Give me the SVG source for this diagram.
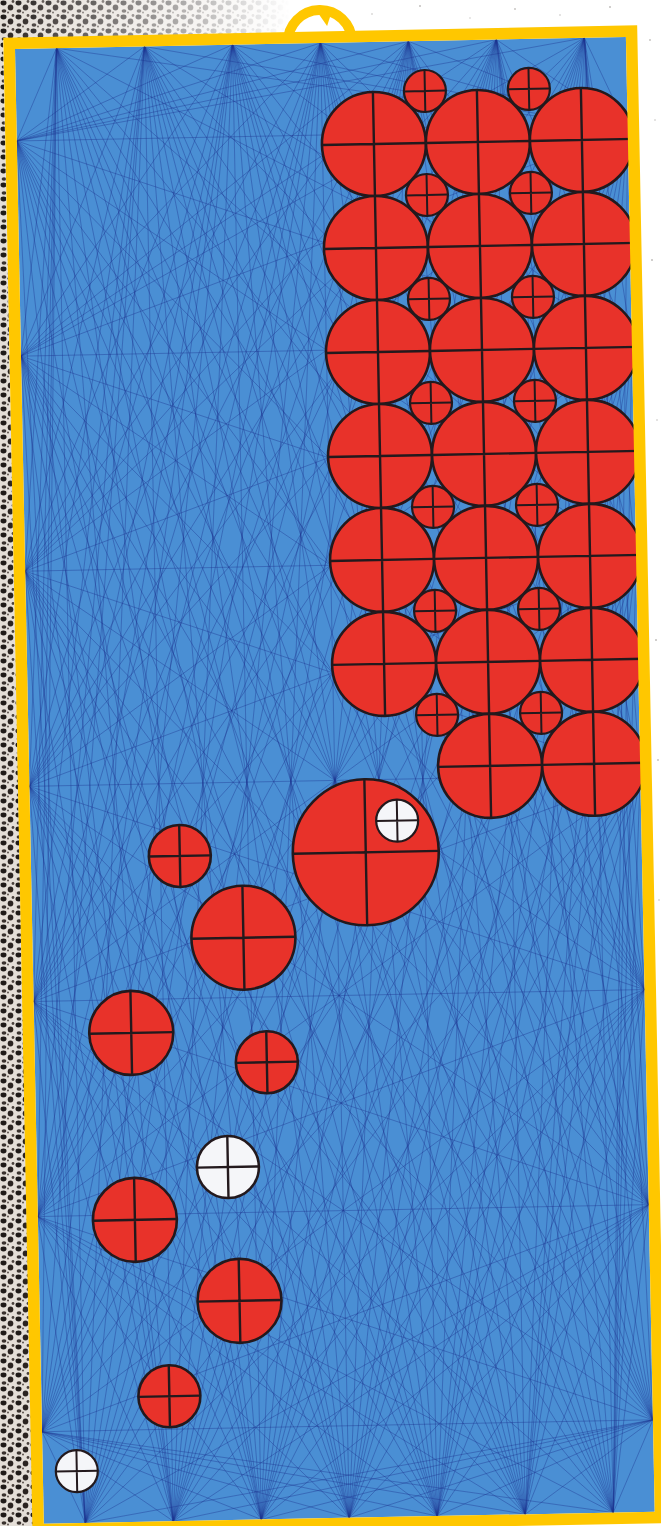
<svg xmlns="http://www.w3.org/2000/svg" width="661" height="1526" viewBox="0 0 661 1526">
<style>
.r{fill:#E8322A;stroke:#23191d;stroke-width:2.6}
.w{fill:#F5F6F9;stroke:#23191d;stroke-width:2.6}
.x{fill:none;stroke:#23191d;stroke-width:2.4}
.s .r,.s .w{stroke-width:2.2}
.s .x{stroke-width:2}
.m use{stroke:#1d3592;stroke-width:0.8;stroke-opacity:0.5;fill:none}
</style>
<defs>
<pattern id="noise" width="15" height="14" patternUnits="userSpaceOnUse">
<rect width="15" height="14" fill="#e4ded7"/>
<ellipse cx="3.5" cy="3" rx="3" ry="2.4" fill="#1f1a18"/>
<ellipse cx="10.5" cy="7.5" rx="2.8" ry="3" fill="#2a2320"/>
<ellipse cx="4" cy="11" rx="2.4" ry="1.8" fill="#3a322e"/>
<circle cx="13" cy="1.5" r="1.4" fill="#4a413c"/>
<circle cx="8" cy="12.5" r="1" fill="#5a514c"/>
</pattern>
<linearGradient id="fg" x1="0" x2="1" y1="0" y2="0">
<stop offset="0" stop-color="#fff"/>
<stop offset="0.3" stop-color="#fff" stop-opacity="0.7"/>
<stop offset="1" stop-color="#fff" stop-opacity="0"/>
</linearGradient>
<mask id="fade" maskUnits="userSpaceOnUse" x="0" y="0" width="300" height="45">
<rect x="0" y="0" width="290" height="45" fill="url(#fg)"/>
</mask>
<clipPath id="cb"><rect width="611" height="1475"/></clipPath>
<path id="fv" vector-effect="non-scaling-stroke" d="M0 0L1 92M0 0L1 307.2M0 0L1 522.3M0 0L1 737.5M0 0L1 952.7M0 0L1 1167.8M0 0L1 1383"/>
<path id="fh" vector-effect="non-scaling-stroke" d="M0 0L41.5 1M0 0L129.5 1M0 0L217.5 1M0 0L305.5 1M0 0L393.5 1M0 0L481.5 1M0 0L569.5 1"/>
</defs>
<rect width="661" height="1526" fill="#ffffff"/>
<g id="texture">
<polygon points="0,0 3,0 3,38 33,1526 0,1526" fill="url(#noise)"/>
<polygon points="0,0 290,0 290,34 0,40" fill="url(#noise)" mask="url(#fade)"/>
<g fill="#9a9590" opacity="0.6">
<circle cx="330" cy="8" r="1"/><circle cx="372" cy="14" r="0.8"/><circle cx="420" cy="6" r="1"/><circle cx="470" cy="18" r="0.7"/><circle cx="515" cy="9" r="0.9"/><circle cx="560" cy="15" r="0.8"/><circle cx="610" cy="7" r="1"/><circle cx="650" cy="40" r="0.9"/><circle cx="655" cy="120" r="0.8"/><circle cx="652" cy="260" r="1"/><circle cx="657" cy="420" r="0.8"/><circle cx="656" cy="640" r="1"/><circle cx="658" cy="760" r="0.9"/><circle cx="659" cy="900" r="0.8"/><circle cx="240" cy="20" r="0.8"/><circle cx="200" cy="8" r="1"/>
</g>
</g>
<g id="board" transform="translate(15 49) rotate(-1.12)">
<rect id="field" width="611" height="1475" fill="#4A8FD4"/>
<g id="mesh" class="m" clip-path="url(#cb)">
<use href="#fv" transform="matrix(611,-92,0,1,0,92)"/>
<use href="#fv" transform="matrix(611,-307.2,0,1,0,307.2)"/>
<use href="#fv" transform="matrix(611,-522.3,0,1,0,522.3)"/>
<use href="#fv" transform="matrix(611,-737.5,0,1,0,737.5)"/>
<use href="#fv" transform="matrix(611,-952.7,0,1,0,952.7)"/>
<use href="#fv" transform="matrix(611,-1167.8,0,1,0,1167.8)"/>
<use href="#fv" transform="matrix(611,-1383,0,1,0,1383)"/>
<use href="#fv" transform="matrix(-41.5,0,0,1,41.5,0)"/>
<use href="#fv" transform="matrix(-129.5,0,0,1,129.5,0)"/>
<use href="#fv" transform="matrix(-217.5,0,0,1,217.5,0)"/>
<use href="#fv" transform="matrix(-305.5,0,0,1,305.5,0)"/>
<use href="#fv" transform="matrix(-393.5,0,0,1,393.5,0)"/>
<use href="#fv" transform="matrix(-481.5,0,0,1,481.5,0)"/>
<use href="#fv" transform="matrix(-569.5,0,0,1,569.5,0)"/>
<use href="#fv" transform="matrix(569.5,0,0,1,41.5,0)"/>
<use href="#fv" transform="matrix(481.5,0,0,1,129.5,0)"/>
<use href="#fv" transform="matrix(393.5,0,0,1,217.5,0)"/>
<use href="#fv" transform="matrix(305.5,0,0,1,305.5,0)"/>
<use href="#fv" transform="matrix(217.5,0,0,1,393.5,0)"/>
<use href="#fv" transform="matrix(129.5,0,0,1,481.5,0)"/>
<use href="#fv" transform="matrix(41.5,0,0,1,569.5,0)"/>
<use href="#fv" transform="matrix(-41.5,-1475,0,1,41.5,1475)"/>
<use href="#fv" transform="matrix(-129.5,-1475,0,1,129.5,1475)"/>
<use href="#fv" transform="matrix(-217.5,-1475,0,1,217.5,1475)"/>
<use href="#fv" transform="matrix(-305.5,-1475,0,1,305.5,1475)"/>
<use href="#fv" transform="matrix(-393.5,-1475,0,1,393.5,1475)"/>
<use href="#fv" transform="matrix(-481.5,-1475,0,1,481.5,1475)"/>
<use href="#fv" transform="matrix(-569.5,-1475,0,1,569.5,1475)"/>
<use href="#fv" transform="matrix(569.5,-1475,0,1,41.5,1475)"/>
<use href="#fv" transform="matrix(481.5,-1475,0,1,129.5,1475)"/>
<use href="#fv" transform="matrix(393.5,-1475,0,1,217.5,1475)"/>
<use href="#fv" transform="matrix(305.5,-1475,0,1,305.5,1475)"/>
<use href="#fv" transform="matrix(217.5,-1475,0,1,393.5,1475)"/>
<use href="#fv" transform="matrix(129.5,-1475,0,1,481.5,1475)"/>
<use href="#fv" transform="matrix(41.5,-1475,0,1,569.5,1475)"/>
<use href="#fh" transform="matrix(1,0,-41.5,1475,41.5,0)"/>
<use href="#fh" transform="matrix(1,0,-129.5,1475,129.5,0)"/>
<use href="#fh" transform="matrix(1,0,-217.5,1475,217.5,0)"/>
<use href="#fh" transform="matrix(1,0,-305.5,1475,305.5,0)"/>
<use href="#fh" transform="matrix(1,0,-393.5,1475,393.5,0)"/>
<use href="#fh" transform="matrix(1,0,-481.5,1475,481.5,0)"/>
<use href="#fh" transform="matrix(1,0,-569.5,1475,569.5,0)"/>
</g>
<g id="grid">
<g id="b11"><circle class="r" cx="357" cy="102" r="52"/><path class="x" d="M305 102h104M357 50v104"/></g>
<g id="b12"><circle class="r" cx="461" cy="102" r="52"/><path class="x" d="M409 102h104M461 50v104"/></g>
<g id="b13"><circle class="r" cx="565" cy="102" r="52"/><path class="x" d="M513 102h104M565 50v104"/></g>
<g id="b21"><circle class="r" cx="357" cy="206" r="52"/><path class="x" d="M305 206h104M357 154v104"/></g>
<g id="b22"><circle class="r" cx="461" cy="206" r="52"/><path class="x" d="M409 206h104M461 154v104"/></g>
<g id="b23"><circle class="r" cx="565" cy="206" r="52"/><path class="x" d="M513 206h104M565 154v104"/></g>
<g id="b31"><circle class="r" cx="357" cy="310" r="52"/><path class="x" d="M305 310h104M357 258v104"/></g>
<g id="b32"><circle class="r" cx="461" cy="310" r="52"/><path class="x" d="M409 310h104M461 258v104"/></g>
<g id="b33"><circle class="r" cx="565" cy="310" r="52"/><path class="x" d="M513 310h104M565 258v104"/></g>
<g id="b41"><circle class="r" cx="357" cy="414" r="52"/><path class="x" d="M305 414h104M357 362v104"/></g>
<g id="b42"><circle class="r" cx="461" cy="414" r="52"/><path class="x" d="M409 414h104M461 362v104"/></g>
<g id="b43"><circle class="r" cx="565" cy="414" r="52"/><path class="x" d="M513 414h104M565 362v104"/></g>
<g id="b51"><circle class="r" cx="357" cy="518" r="52"/><path class="x" d="M305 518h104M357 466v104"/></g>
<g id="b52"><circle class="r" cx="461" cy="518" r="52"/><path class="x" d="M409 518h104M461 466v104"/></g>
<g id="b53"><circle class="r" cx="565" cy="518" r="52"/><path class="x" d="M513 518h104M565 466v104"/></g>
<g id="b61"><circle class="r" cx="357" cy="622" r="52"/><path class="x" d="M305 622h104M357 570v104"/></g>
<g id="b62"><circle class="r" cx="461" cy="622" r="52"/><path class="x" d="M409 622h104M461 570v104"/></g>
<g id="b63"><circle class="r" cx="565" cy="622" r="52"/><path class="x" d="M513 622h104M565 570v104"/></g>
<g id="b72"><circle class="r" cx="461" cy="726" r="52"/><path class="x" d="M409 726h104M461 674v104"/></g>
<g id="b73"><circle class="r" cx="565" cy="726" r="52"/><path class="x" d="M513 726h104M565 674v104"/></g>
<g class="s">
<g id="s11"><circle class="r" cx="409" cy="50" r="21"/><path class="x" d="M388 50h42M409 29v42"/></g>
<g id="s12"><circle class="r" cx="513" cy="50" r="21"/><path class="x" d="M492 50h42M513 29v42"/></g>
<g id="s21"><circle class="r" cx="409" cy="154" r="21"/><path class="x" d="M388 154h42M409 133v42"/></g>
<g id="s22"><circle class="r" cx="513" cy="154" r="21"/><path class="x" d="M492 154h42M513 133v42"/></g>
<g id="s31"><circle class="r" cx="409" cy="258" r="21"/><path class="x" d="M388 258h42M409 237v42"/></g>
<g id="s32"><circle class="r" cx="513" cy="258" r="21"/><path class="x" d="M492 258h42M513 237v42"/></g>
<g id="s41"><circle class="r" cx="409" cy="362" r="21"/><path class="x" d="M388 362h42M409 341v42"/></g>
<g id="s42"><circle class="r" cx="513" cy="362" r="21"/><path class="x" d="M492 362h42M513 341v42"/></g>
<g id="s51"><circle class="r" cx="409" cy="466" r="21"/><path class="x" d="M388 466h42M409 445v42"/></g>
<g id="s52"><circle class="r" cx="513" cy="466" r="21"/><path class="x" d="M492 466h42M513 445v42"/></g>
<g id="s61"><circle class="r" cx="409" cy="570" r="21"/><path class="x" d="M388 570h42M409 549v42"/></g>
<g id="s62"><circle class="r" cx="513" cy="570" r="21"/><path class="x" d="M492 570h42M513 549v42"/></g>
<g id="s71"><circle class="r" cx="409" cy="674" r="21"/><path class="x" d="M388 674h42M409 653v42"/></g>
<g id="s72"><circle class="r" cx="513" cy="674" r="21"/><path class="x" d="M492 674h42M513 653v42"/></g>
</g>
</g>
<g id="scatter">
<g id="big"><circle class="r" cx="335" cy="810" r="73"/><path class="x" d="M262 810h146M335 737v146"/></g>
<g id="white-a" class="s"><circle class="w" cx="367" cy="779" r="21"/><path class="x" d="M346 779h42M367 758v42"/></g>
<g id="red-b"><circle class="r" cx="149" cy="810" r="31"/><path class="x" d="M118 810h62M149 779v62"/></g>
<g id="red-c"><circle class="r" cx="211" cy="893" r="52"/><path class="x" d="M159 893h104M211 841v104"/></g>
<g id="red-d"><circle class="r" cx="97" cy="986" r="42"/><path class="x" d="M55 986h84M97 944v84"/></g>
<g id="red-e"><circle class="r" cx="232" cy="1018" r="31"/><path class="x" d="M201 1018h62M232 987v62"/></g>
<g id="white-b"><circle class="w" cx="191" cy="1122" r="31"/><path class="x" d="M160 1122h62M191 1091v62"/></g>
<g id="red-f"><circle class="r" cx="97" cy="1173" r="42"/><path class="x" d="M55 1173h84M97 1131v84"/></g>
<g id="red-g"><circle class="r" cx="200" cy="1256" r="42"/><path class="x" d="M158 1256h84M200 1214v84"/></g>
<g id="red-h"><circle class="r" cx="128" cy="1350" r="31"/><path class="x" d="M97 1350h62M128 1319v62"/></g>
<g id="white-c" class="s"><circle class="w" cx="34" cy="1423" r="21"/><path class="x" d="M13 1423h42M34 1402v42"/></g>
</g>
<g id="frame" fill="none" stroke="#FFC700">
<rect x="-5.75" y="-5.75" width="622.5" height="1486.5" stroke-width="11.5"/>
<path d="M273 -1A32 32 0 0 1 337 -1" stroke-width="10"/>
<polygon points="303,-31 310,-33 316,-27 312.5,-17" fill="#FFC700" stroke="none"/>
</g>
</g>
</svg>
